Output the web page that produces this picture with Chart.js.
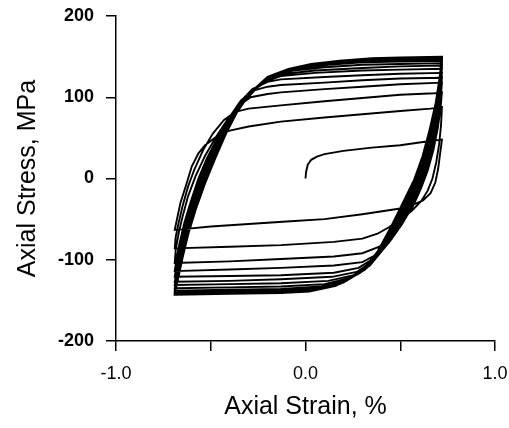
<!DOCTYPE html>
<html>
<head>
<meta charset="utf-8">
<script src="https://cdn.jsdelivr.net/npm/chart.js@4"></script>
<style>
  html, body { margin: 0; padding: 0; background: #fff; }
</style>
</head>
<body>
<canvas id="loopChart" width="509" height="428"></canvas>
<script>
// Cyclic stress-strain loops, [strain %, stress MPa].
// Each cycle = tension branch followed by compression branch.
const cycle01 = [
  [0, 0], [0.003, 8], [0.012, 17], [0.03, 23], [0.06, 27], [0.1, 30], [0.2, 34], [0.35, 38], [0.5, 41], [0.62, 45], [0.72, 48],
  [0.71, 30], [0.7, 12], [0.685, -5], [0.66, -18], [0.62, -27], [0.56, -33], [0.5, -37], [0.3, -44], [0.1, -50], [-0.1, -53], [-0.3, -56], [-0.5, -59], [-0.63, -62], [-0.69, -63]
];
const cycle02 = [
  [-0.68, -52], [-0.66, -30], [-0.63, -8], [-0.6, 15], [-0.565, 31], [-0.53, 41], [-0.49, 48], [-0.45, 55], [-0.4, 59], [-0.3, 64], [-0.13, 70], [0.1, 75], [0.3, 79], [0.5, 83], [0.66, 86], [0.72, 88],
  [0.715, 65], [0.705, 42], [0.69, 20], [0.67, 0], [0.645, -15], [0.61, -28], [0.56, -40], [0.5, -50], [0.44, -60], [0.38, -68], [0.3, -74], [0.15, -78], [-0.13, -82], [-0.4, -84], [-0.69, -86]
];
const cycle03 = [
  [-0.685, -72], [-0.67, -55], [-0.65, -35], [-0.62, -10], [-0.585, 12], [-0.54, 35], [-0.49, 55], [-0.43, 72], [-0.37, 82], [-0.3, 86], [-0.13, 90], [0.1, 95], [0.3, 99], [0.5, 103], [0.68, 105], [0.72, 106],
  [0.712, 85], [0.698, 62], [0.675, 35], [0.645, 10], [0.61, -12], [0.565, -35], [0.51, -55], [0.45, -72], [0.39, -84], [0.3, -92], [0.15, -96], [-0.13, -99], [-0.4, -102], [-0.69, -104]
];
const cycle04 = [
  [-0.685, -88], [-0.67, -68], [-0.65, -48], [-0.62, -22], [-0.58, 3], [-0.53, 28], [-0.47, 52], [-0.41, 73], [-0.35, 90], [-0.29, 100], [-0.2, 104], [-0.13, 106], [0.1, 110], [0.3, 113], [0.5, 116], [0.72, 118],
  [0.712, 95], [0.698, 70], [0.676, 42], [0.648, 16], [0.612, -10], [0.565, -34], [0.51, -56], [0.45, -76], [0.38, -93], [0.3, -103], [0.15, -107], [-0.13, -110], [-0.4, -112], [-0.69, -114]
];
const cycle05 = [
  [-0.68, -98], [-0.665, -80], [-0.64, -55], [-0.605, -28], [-0.565, 0], [-0.52, 25], [-0.46, 52], [-0.4, 76], [-0.34, 96], [-0.28, 108], [-0.2, 113], [-0.13, 115], [0.1, 118], [0.3, 121], [0.5, 123], [0.72, 124],
  [0.711, 100], [0.696, 74], [0.673, 45], [0.645, 18], [0.608, -9], [0.562, -34], [0.505, -57], [0.44, -79], [0.37, -97], [0.28, -110], [0.15, -116], [-0.13, -119], [-0.4, -120], [-0.69, -121]
];
const cycle06 = [
  [-0.678, -104], [-0.662, -85], [-0.64, -62], [-0.605, -33], [-0.565, -5], [-0.52, 22], [-0.465, 48], [-0.41, 72], [-0.35, 93], [-0.28, 110], [-0.2, 119], [-0.13, 122], [0.1, 125], [0.3, 127], [0.5, 129], [0.72, 130],
  [0.711, 105], [0.695, 78], [0.671, 48], [0.641, 19], [0.604, -9], [0.556, -34], [0.498, -58], [0.432, -81], [0.36, -101], [0.27, -115], [0.14, -121], [-0.13, -124], [-0.4, -126], [-0.69, -127]
];
const cycle07 = [
  [-0.677, -110], [-0.661, -90], [-0.638, -66], [-0.603, -37], [-0.562, -8], [-0.515, 20], [-0.462, 46], [-0.407, 70], [-0.345, 92], [-0.27, 111], [-0.19, 121], [-0.13, 126], [0.05, 130], [0.3, 133], [0.5, 134], [0.72, 135],
  [0.71, 109], [0.694, 81], [0.669, 50], [0.638, 20], [0.6, -8], [0.551, -34], [0.492, -59], [0.425, -83], [0.35, -104], [0.255, -119], [0.12, -126], [-0.13, -129], [-0.4, -130], [-0.69, -131]
];
const cycle08 = [
  [-0.676, -114], [-0.66, -94], [-0.636, -68], [-0.6, -39], [-0.558, -10], [-0.51, 18], [-0.455, 45], [-0.4, 69], [-0.34, 91], [-0.26, 111], [-0.18, 123], [-0.1, 129], [0.05, 133], [0.3, 136], [0.5, 138], [0.72, 139],
  [0.71, 112], [0.693, 84], [0.667, 52], [0.635, 21], [0.596, -7], [0.546, -34], [0.486, -60], [0.418, -85], [0.34, -107], [0.24, -122], [0.1, -130], [-0.13, -133], [-0.4, -134], [-0.69, -135]
];
const cycle09 = [
  [-0.675, -117], [-0.658, -97], [-0.633, -70], [-0.597, -41], [-0.553, -11], [-0.502, 17], [-0.447, 45], [-0.393, 70], [-0.33, 93], [-0.25, 113], [-0.16, 126], [-0.06, 133], [0.1, 137], [0.3, 140], [0.5, 141], [0.72, 142],
  [0.709, 115], [0.692, 86], [0.665, 53], [0.632, 22], [0.592, -6], [0.541, -33], [0.48, -60], [0.41, -87], [0.325, -110], [0.22, -125], [0.08, -133], [-0.13, -136], [-0.4, -137], [-0.69, -138]
];
const cycle10 = [
  [-0.674, -120], [-0.656, -100], [-0.63, -72], [-0.594, -43], [-0.548, -11], [-0.495, 18], [-0.44, 47], [-0.385, 73], [-0.32, 97], [-0.24, 116], [-0.14, 129], [-0.03, 136], [0.12, 140], [0.3, 143], [0.5, 144], [0.72, 145],
  [0.709, 118], [0.691, 88], [0.663, 55], [0.629, 23], [0.588, -5], [0.536, -32], [0.474, -60], [0.402, -88], [0.315, -112], [0.2, -128], [0.06, -135], [-0.13, -138], [-0.4, -139], [-0.69, -140]
];
const cycle11 = [
  [-0.673, -121], [-0.654, -100], [-0.627, -72], [-0.59, -43], [-0.543, -11], [-0.488, 20], [-0.433, 50], [-0.378, 76], [-0.31, 100], [-0.225, 119], [-0.12, 131], [0, 138], [0.15, 142], [0.32, 145], [0.5, 146], [0.72, 147],
  [0.708, 120], [0.69, 90], [0.66, 56], [0.625, 24], [0.584, -4], [0.531, -31], [0.468, -59], [0.395, -88], [0.308, -113], [0.19, -129], [0.05, -136], [-0.13, -139], [-0.4, -140], [-0.69, -141]
];
const cycle12 = [
  [-0.672, -121], [-0.652, -99], [-0.624, -71], [-0.587, -42], [-0.54, -10], [-0.484, 22], [-0.428, 52], [-0.372, 78], [-0.303, 102], [-0.218, 121], [-0.11, 133], [0.01, 139], [0.16, 143], [0.33, 146], [0.5, 147], [0.72, 148],
  [0.708, 121], [0.689, 91], [0.658, 57], [0.622, 25], [0.58, -3], [0.526, -30], [0.463, -58], [0.39, -88], [0.3, -114], [0.18, -130], [0.04, -137], [-0.13, -140], [-0.4, -141], [-0.69, -142]
];
const cycle13 = [
  [-0.671, -121], [-0.65, -98], [-0.621, -70], [-0.583, -40], [-0.535, -8], [-0.479, 24], [-0.423, 54], [-0.366, 80], [-0.296, 104], [-0.21, 123], [-0.1, 134], [0.02, 140], [0.17, 144], [0.34, 147], [0.5, 148], [0.72, 149],
  [0.707, 122], [0.688, 92], [0.656, 58], [0.62, 26], [0.577, -2], [0.522, -29], [0.458, -58], [0.385, -89], [0.295, -115], [0.17, -131], [0.03, -138], [-0.13, -141], [-0.4, -142], [-0.69, -143]
];
const cycle14 = [
  [-0.67, -121], [-0.648, -97], [-0.618, -68], [-0.579, -38], [-0.53, -6], [-0.474, 26], [-0.418, 56], [-0.36, 82], [-0.29, 106], [-0.2, 125], [-0.09, 135], [0.03, 141], [0.18, 145], [0.35, 148], [0.5, 149], [0.72, 150],
  [0.707, 123], [0.687, 93], [0.654, 59], [0.617, 27], [0.574, -1], [0.518, -28], [0.454, -58], [0.38, -90], [0.29, -116], [0.16, -132], [0.02, -139], [-0.13, -141], [-0.4, -142], [-0.69, -143]
];

const cycles = [cycle01, cycle02, cycle03, cycle04, cycle05, cycle06, cycle07,
                cycle08, cycle09, cycle10, cycle11, cycle12, cycle13, cycle14];

const xTitle = 'Axial Strain, %';
const yTitle = 'Axial Stress, MPa';
const xLabelled = [-1, 0, 1];

// one continuous trace
const trace = [];
cycles.forEach(c => c.forEach(p => trace.push({x: p[0], y: p[1]})));

const FONT = "'Liberation Sans', Arial, sans-serif";

const config = {
  type: 'scatter',
  data: {
    datasets: [{
      data: trace,
      showLine: true,
      borderColor: '#000',
      borderWidth: 1.9,
      pointRadius: 0,
      tension: 0,
      fill: false
    }]
  },
  options: {
    responsive: false,
    animation: false,
    layout: { padding: { top: 16, right: 14, bottom: 0, left: 0 } },
    plugins: { legend: { display: false }, tooltip: { enabled: false } },
    scales: {
      x: {
        type: 'linear',
        min: -1, max: 1,
        afterFit: s => { s.height = 87; s.paddingLeft = 0; s.paddingRight = 0; },
        border: { display: true, color: '#000', width: 1.5 },
        grid: { display: true, drawOnChartArea: false, drawTicks: true, tickLength: 10, color: '#000', lineWidth: 1.5 },
        ticks: {
          stepSize: 0.5,
          padding: 12,
          maxRotation: 0,
          color: '#000',
          font: { family: FONT, size: 18 },
          callback: v => xLabelled.includes(v) ? v.toFixed(1) : ''
        },
        title: {
          display: true, text: xTitle, color: '#000',
          font: { family: FONT, size: 25 },
          padding: { top: 0, bottom: 6 }
        }
      },
      y: {
        type: 'linear',
        min: -200, max: 200,
        afterFit: s => { s.width = 116; s.paddingTop = 0; s.paddingBottom = 0; },
        border: { display: true, color: '#000', width: 1.5 },
        grid: { display: true, drawOnChartArea: false, drawTicks: true, tickLength: 10, color: '#000', lineWidth: 1.5 },
        ticks: {
          stepSize: 100,
          padding: 12,
          color: '#000',
          font: { family: FONT, size: 18, weight: 'bold' }
        },
        title: {
          display: true, text: yTitle, color: '#000',
          font: { family: FONT, size: 25 },
          padding: { top: 13, bottom: 0 }
        }
      }
    }
  }
};

const ctx = document.getElementById('loopChart').getContext('2d');
const loopChart = new Chart(ctx, config);
</script>
</body>
</html>
